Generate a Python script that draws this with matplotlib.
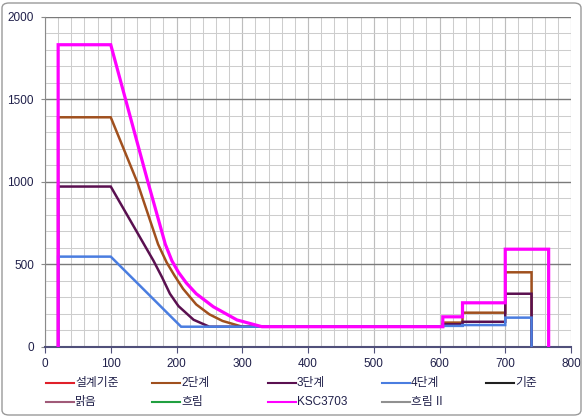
import numpy as np
import matplotlib
matplotlib.use('Agg')
import matplotlib.pyplot as plt
import matplotlib.ticker as ticker
from matplotlib.lines import Line2D
from matplotlib.patches import FancyBboxPatch

plt.rcParams['font.family'] = ['Liberation Sans', 'Noto Sans CJK KR', 'DejaVu Sans']

# series data (x = distance, y = luminance)
ksc_x = [20, 20, 100, 155, 183, 193, 203, 215, 230, 256, 292, 330, 605, 605, 635, 635, 700, 700, 766, 766]
ksc_y = [0, 1830, 1830, 1020, 620, 520, 450, 385, 320, 241, 161, 120, 120, 180, 180, 265, 265, 590, 590, 0]

step2_x = [20, 20, 100, 140, 172, 185, 197, 210, 230, 250, 270, 300, 605, 605, 635, 635, 700, 700, 740, 740]
step2_y = [0, 1390, 1390, 1000, 620, 510, 430, 350, 255, 195, 155, 120, 120, 145, 145, 205, 205, 450, 450, 0]

step3_x = [20, 20, 100, 165, 178, 190, 203, 226, 250, 605, 605, 635, 635, 700, 700, 740, 740]
step3_y = [0, 970, 970, 520, 420, 320, 245, 162, 120, 120, 135, 135, 150, 150, 320, 320, 0]

step4_x = [20, 20, 100, 207, 605, 605, 635, 635, 700, 700, 740, 740]
step4_y = [0, 545, 545, 120, 120, 125, 125, 130, 130, 175, 175, 0]

# series with no visible points
empty_x = []
empty_y = []

names = ['설계기준', '2단계', '3단계', '4단계', '기준',
         '맑음', '흐림', 'KSC3703', '흐림 II']
colors = ['#e0202a', '#a0501e', '#5a1050', '#4a7de0', '#202020',
          '#a05a78', '#20a040', '#ff00ff', '#909090']
widths = [1.5, 1.8, 1.8, 1.8, 1.5, 1.5, 1.5, 2.3, 1.5]
xs = [empty_x, step2_x, step3_x, step4_x, empty_x, empty_x, empty_x, ksc_x, empty_x]
ys = [empty_y, step2_y, step3_y, step4_y, empty_y, empty_y, empty_y, ksc_y, empty_y]

W, H = 584, 418
fig = plt.figure(figsize=(W / 100, H / 100), dpi=100)
ax = fig.add_axes([45 / W, 1 - 346.5 / H, (571 - 45) / W, (346.5 - 16.7) / H])

for i in range(len(names)):
    if len(xs[i]) > 0:
        ax.plot(xs[i], ys[i], color=colors[i], lw=widths[i], zorder=3 + i * 0.1,
                solid_joinstyle='miter')

ax.set_xlim(0, 800)
ax.set_ylim(0, 2000)
ax.xaxis.set_major_locator(ticker.MultipleLocator(100))
ax.xaxis.set_minor_locator(ticker.MultipleLocator(20))
ax.yaxis.set_major_locator(ticker.MultipleLocator(500))
ax.yaxis.set_minor_locator(ticker.MultipleLocator(100))

ax.grid(which='minor', axis='both', color='#cdcdcd', lw=0.75)
ax.grid(which='major', axis='x', color='#bdbdbd', lw=0.85)
ax.grid(which='major', axis='y', color='#7a7a7a', lw=1.0)
ax.set_axisbelow(True)

for s in ['top', 'right']:
    ax.spines[s].set_visible(False)
ax.spines['left'].set_color('#8a8a8a')
ax.spines['bottom'].set_color('#50507a')
ax.spines['bottom'].set_linewidth(1.5)

ax.tick_params(which='minor', length=0)
ax.tick_params(axis='x', which='major', length=4, color='#50507a', direction='out',
               labelsize=8.5, labelcolor='#20204a', pad=4)
ax.tick_params(axis='y', which='major', length=3, color='#8a8a8a', direction='out',
               labelsize=8.5, labelcolor='#20204a', pad=5)

# legend, two rows of five
col_x = [46, 152, 268, 382, 486]
row_y = [383, 402]
for i in range(len(names)):
    r, c = divmod(i, 5)
    x0 = col_x[c]
    y0 = 1 - row_y[r] / H
    fig.add_artist(Line2D([x0 / W, (x0 + 28) / W], [y0, y0], color=colors[i], lw=1.5,
                          transform=fig.transFigure))
    fig.text((x0 + 29) / W, y0, names[i], fontsize=8.5, color='#20204a',
             va='center', ha='left')

# chart border
frame = FancyBboxPatch((2 / W, 3 / H), (W - 5) / W, (H - 6) / H,
                       boxstyle='round,pad=0,rounding_size=0.012',
                       transform=fig.transFigure, fill=False,
                       edgecolor='#9a9a9a', lw=1.0)
fig.add_artist(frame)

fig.savefig('out.png', dpi=100)
